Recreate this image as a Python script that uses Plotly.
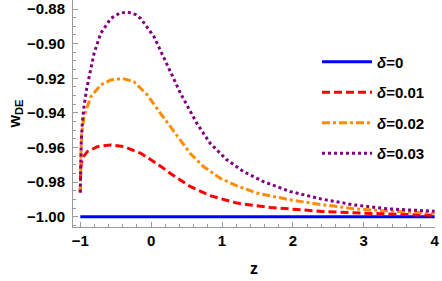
import plotly.graph_objects as go

# ---- data ----
z_d0 = [-1.0, 4.0]
w_d0 = [-1.0, -1.0]

z_d01 = [-1.0, -0.999, -0.995, -0.986, -0.95, -0.901, -0.76, -0.571, -0.383, -0.147,
         0.088, 0.267, 0.549, 0.832, 1.209, 1.68, 1.96, 2.41, 2.856, 3.33, 4.0]
w_d01 = [-0.986, -0.978, -0.972, -0.969, -0.965, -0.9624, -0.9595, -0.9585, -0.9595, -0.9633,
         -0.9695, -0.9748, -0.9825, -0.9878, -0.9921, -0.9946, -0.9956, -0.9969, -0.9977, -0.9984, -0.9992]

z_d02 = [-1.0, -0.998, -0.99, -0.98, -0.96, -0.948, -0.853, -0.712, -0.571, -0.407, -0.242,
         -0.054, 0.136, 0.27, 0.408, 0.549, 0.737, 0.973, 1.209, 1.49, 1.96, 2.41, 2.856, 3.33, 4.0]
w_d02 = [-0.986, -0.974, -0.962, -0.952, -0.945, -0.9422, -0.9307, -0.9239, -0.921, -0.9201, -0.922,
         -0.9297, -0.9405, -0.948, -0.9556, -0.9633, -0.971, -0.9777, -0.9821, -0.9863, -0.9902, -0.993,
         -0.9953, -0.9967, -0.9979]

z_d03 = [-1.0, -0.998, -0.993, -0.986, -0.97, -0.948, -0.91, -0.877, -0.806, -0.712, -0.571, -0.45,
         -0.336, -0.22, -0.147, 0.041, 0.229, 0.418, 0.644, 0.832, 1.068, 1.302, 1.585, 1.96, 2.41,
         2.856, 3.33, 4.0]
w_d03 = [-0.986, -0.972, -0.962, -0.9556, -0.945, -0.9364, -0.926, -0.9191, -0.9057, -0.8941, -0.8855, -0.8825,
         -0.8817, -0.8832, -0.8855, -0.8961, -0.9125, -0.929, -0.946, -0.9575, -0.9671, -0.9739, -0.9797, -0.9854,
         -0.9898, -0.9931, -0.9954, -0.9968]

names = ["<i>δ</i>=0", "<i>δ</i>=0.01", "<i>δ</i>=0.02", "<i>δ</i>=0.03"]
x_ticks = [-1, 0, 1, 2, 3, 4]
y_ticks = [-1.00, -0.98, -0.96, -0.94, -0.92, -0.90, -0.88]

FONT = "Liberation Sans, Arial, sans-serif"

fig = go.Figure()
series = [
    (z_d0, w_d0, "#0000FF", "solid"),
    (z_d01, w_d01, "#FF0000", "8px,4px"),
    (z_d02, w_d02, "#FF8C00", "8px,3px,3px,3px"),
    (z_d03, w_d03, "#800080", "3px,3px"),
]
for i, (zx, wy, col, dash) in enumerate(series):
    fig.add_trace(go.Scatter(
        x=zx, y=wy, mode="lines", name=names[i], legendgroup=f"g{i}",
        line=dict(color=col, width=3, dash=dash),
    ))

axis_common = dict(
    showline=True, linecolor="#9a9a9a", linewidth=1, mirror=False,
    showgrid=False, zeroline=False, automargin=False,
    ticks="inside", ticklen=5, tickcolor="#9a9a9a", tickwidth=1,
    tickfont=dict(family=FONT, size=15, color="black", weight="bold"),
)

fig.update_xaxes(
    range=[-1.103, 4.005], tickvals=x_ticks, ticktext=[("−1" if v == -1 else str(v)) for v in x_ticks],
    minor=dict(dtick=0.2, ticks="inside", ticklen=3, tickcolor="#9a9a9a", showgrid=False),
    title=dict(text="z", font=dict(family=FONT, size=16, color="black", weight="bold"), standoff=14),
    **axis_common,
)
fig.update_yaxes(
    range=[-1.0059, -0.8748], tickvals=y_ticks, tickformat=".2f",
    minor=dict(dtick=0.005, tick0=-1.0, ticks="inside", ticklen=3, tickcolor="#9a9a9a", showgrid=False),
    title=dict(text="w<sub>DE</sub>", font=dict(family=FONT, size=16, color="black", weight="bold"), standoff=2),
    ticklabelstandoff=4,
    **axis_common,
)

fig.update_layout(
    width=442, height=281,
    margin=dict(l=73, r=7, t=0, b=54),
    paper_bgcolor="white", plot_bgcolor="white",
    showlegend=True,
    legend=dict(
        x=0.674, y=0.80, xanchor="left", yanchor="top",
        bgcolor="rgba(0,0,0,0)", borderwidth=0,
        font=dict(family=FONT, size=15, color="black", weight="bold"),
        traceorder="grouped", tracegroupgap=8, itemwidth=50,
    ),
)

fig.write_html("out.html", config={"displayModeBar": False},
               post_script="document.body.style.margin='0';document.body.style.padding='0';")
